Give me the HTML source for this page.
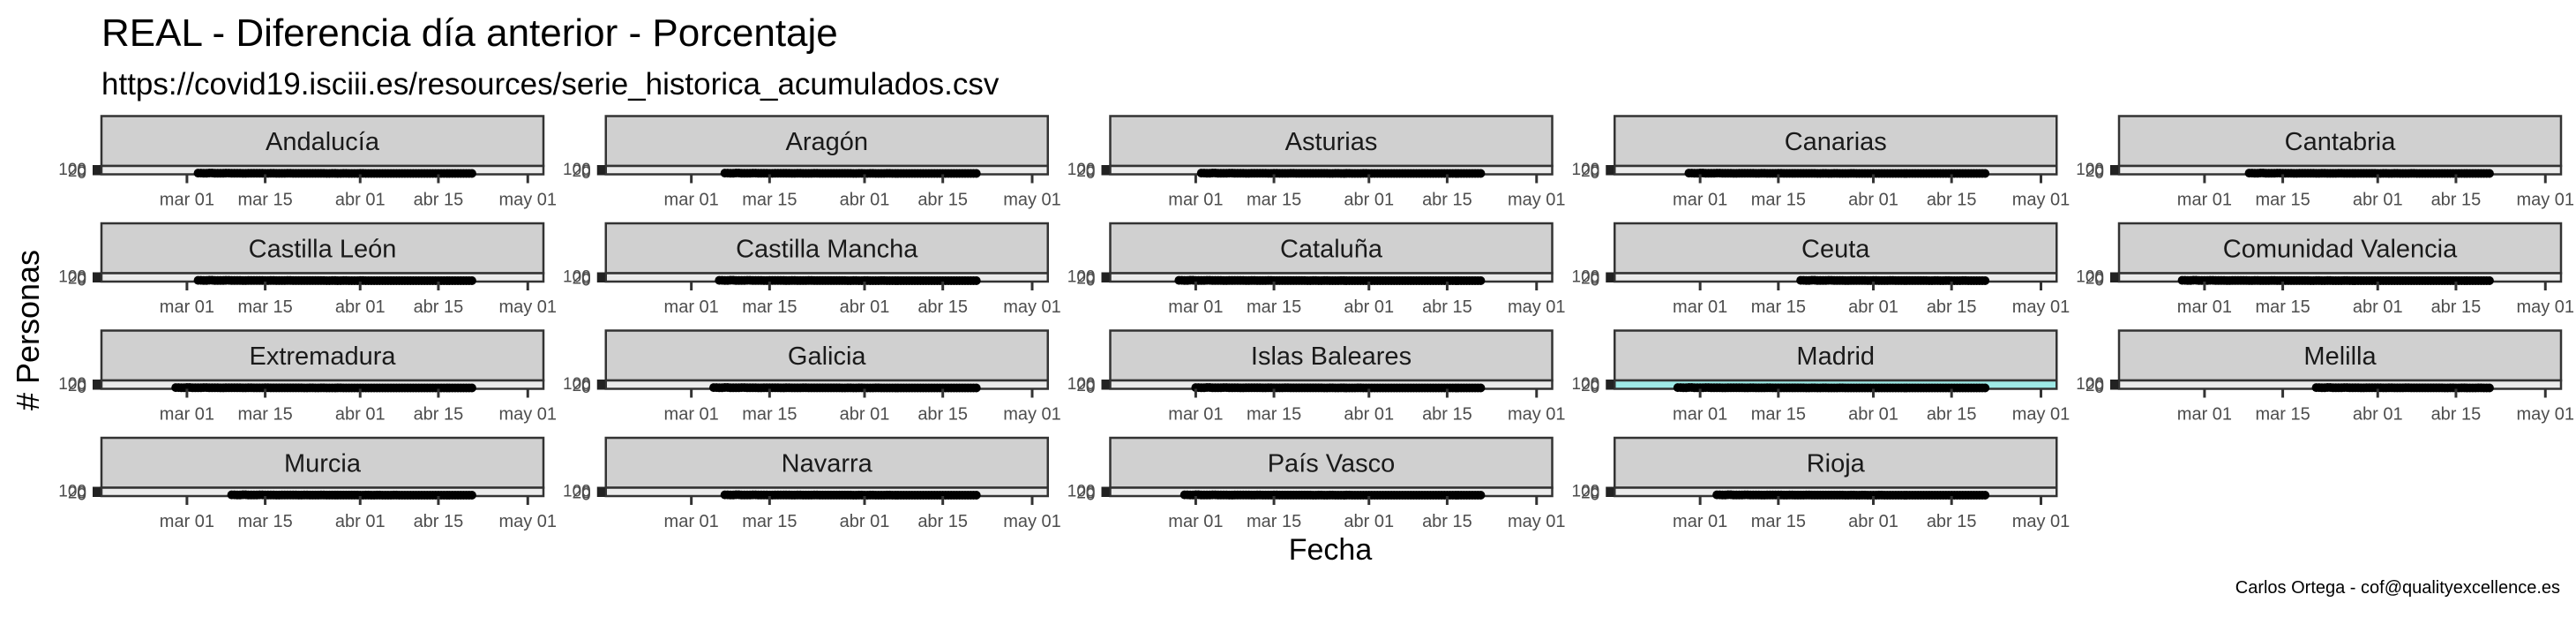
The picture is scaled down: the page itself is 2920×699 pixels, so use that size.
<!DOCTYPE html>
<html><head><meta charset="utf-8"><style>
html,body{margin:0;padding:0;background:#fff;}
svg{display:block;font-family:"Liberation Sans",Arial,sans-serif;}
</style></head><body>
<svg id="chart" width="2920" height="699" viewBox="0 0 2920 699" xmlns="http://www.w3.org/2000/svg">
<text x="115" y="52" font-size="44" fill="#000">REAL - Diferencia día anterior - Porcentaje</text>
<text x="115" y="107" font-size="35" fill="#000">https://covid19.isciii.es/resources/serie_historica_acumulados.csv</text>
<text transform="translate(44,374) rotate(-90)" text-anchor="middle" font-size="36" fill="#000"># Personas</text>
<text x="1508" y="634" text-anchor="middle" font-size="34" fill="#000">Fecha</text>
<text x="2902" y="672" text-anchor="end" font-size="20" fill="#000">Carlos Ortega - cof@qualityexcellence.es</text>
<g id="panels"></g>
</svg>
<script>
const regions = ["Andalucía","Aragón","Asturias","Canarias","Cantabria","Castilla León","Castilla Mancha","Cataluña","Ceuta","Comunidad Valencia","Extremadura","Galicia","Islas Baleares","Madrid","Melilla","Murcia","Navarra","País Vasco","Rioja"];
// day (relative to mar 01) where each series starts
const startDays = [2,6,1,-2,8,2,5,-3,18,-4,-2,4,0,-4,20,8,6,-2,3];
const endDay = 51;
const dailyValues = [4,3,5,2,3,4,2,3,1,2,3,2,1,2,1,1,2,1,1,1,1,1,1,0,1,0,1,0,0,1,0,0,0,0,0,0,0,0,0,0,0,0,0,0,0,0,0,0,0,0,0,0,0,0,0,0,0,0];
const tickDays = [0,14,31,45,61];
const tickLabels = ["mar 01","mar 15","abr 01","abr 15","may 01"];
const yTickLabels = ["100","20","0"];
const highlighted = ["Madrid"];

const NS="http://www.w3.org/2000/svg";
const g=document.getElementById('panels');
const colX0=115, colPitch=571.75, panelW=501;
const rowY0=131.5, rowPitch=121.5, stripH=56.5, plotH=9.5;
const dayMin=-15.3, dayMax=63.8;
function xScale(d, px){return px + (d-dayMin)/(dayMax-dayMin)*panelW;}
function yScale(v, py){return py + plotH - 1 - v/100*plotH;}
function mk(tag, attrs, parent){const e=document.createElementNS(NS,tag);for(const k in attrs)e.setAttribute(k,attrs[k]);parent.appendChild(e);return e;}

regions.forEach((name,i)=>{
  const c=i%5, r=Math.floor(i/5);
  const px=colX0+c*colPitch, sy=rowY0+r*rowPitch, py=sy+stripH;
  const pg=mk('g',{},g);
  
  
  const strip=mk('rect',{x:px,y:sy,width:panelW,height:stripH,fill:'#d0d0d0',stroke:'#333','stroke-width':2.5},pg);
  
  
  const st=mk('text',{x:px+panelW/2,y:sy+stripH/2+10,'text-anchor':'middle','font-size':29,fill:'#1a1a1a'},pg);
  st.textContent=name;
  
  
  const bg=mk('rect',{x:px,y:py,width:panelW,height:plotH,fill:highlighted.includes(name)?'#9ee9e6':'#ebebeb',stroke:'#333','stroke-width':2.5},pg);
  
  
  const yt=mk('rect',{x:px-10,y:py-1,width:9,height:plotH+2,fill:'#222'},pg);
  
  
  yTickLabels.forEach((l,j)=>{
    const t=mk('text',{x:px-17,y:py+plotH/2+7+(j-1)*2,'text-anchor':'end','font-size':19,fill:'#4d4d4d'},pg);
    t.textContent=l;
    
    
  });
  for(let d=startDays[i], k=0; d<=endDay; d+=0.5, k+=0.5){
    const v=dailyValues[Math.min(Math.floor(k),dailyValues.length-1)];
    const pt=mk('circle',{cx:xScale(d,px),cy:yScale(v,py),r:5,fill:'#000'},pg);
    
    
  }
  tickDays.forEach((d,j)=>{
    const x=xScale(d,px);
    const tk=mk('line',{x1:x,x2:x,y1:py+plotH,y2:py+plotH+10,stroke:'#333','stroke-width':3},pg);
    
    
    const tl=mk('text',{x:x,y:py+plotH+35,'text-anchor':'middle','font-size':20,fill:'#4d4d4d'},pg);
    tl.textContent=tickLabels[j];
    
    
  });
});
</script>
</body></html>
